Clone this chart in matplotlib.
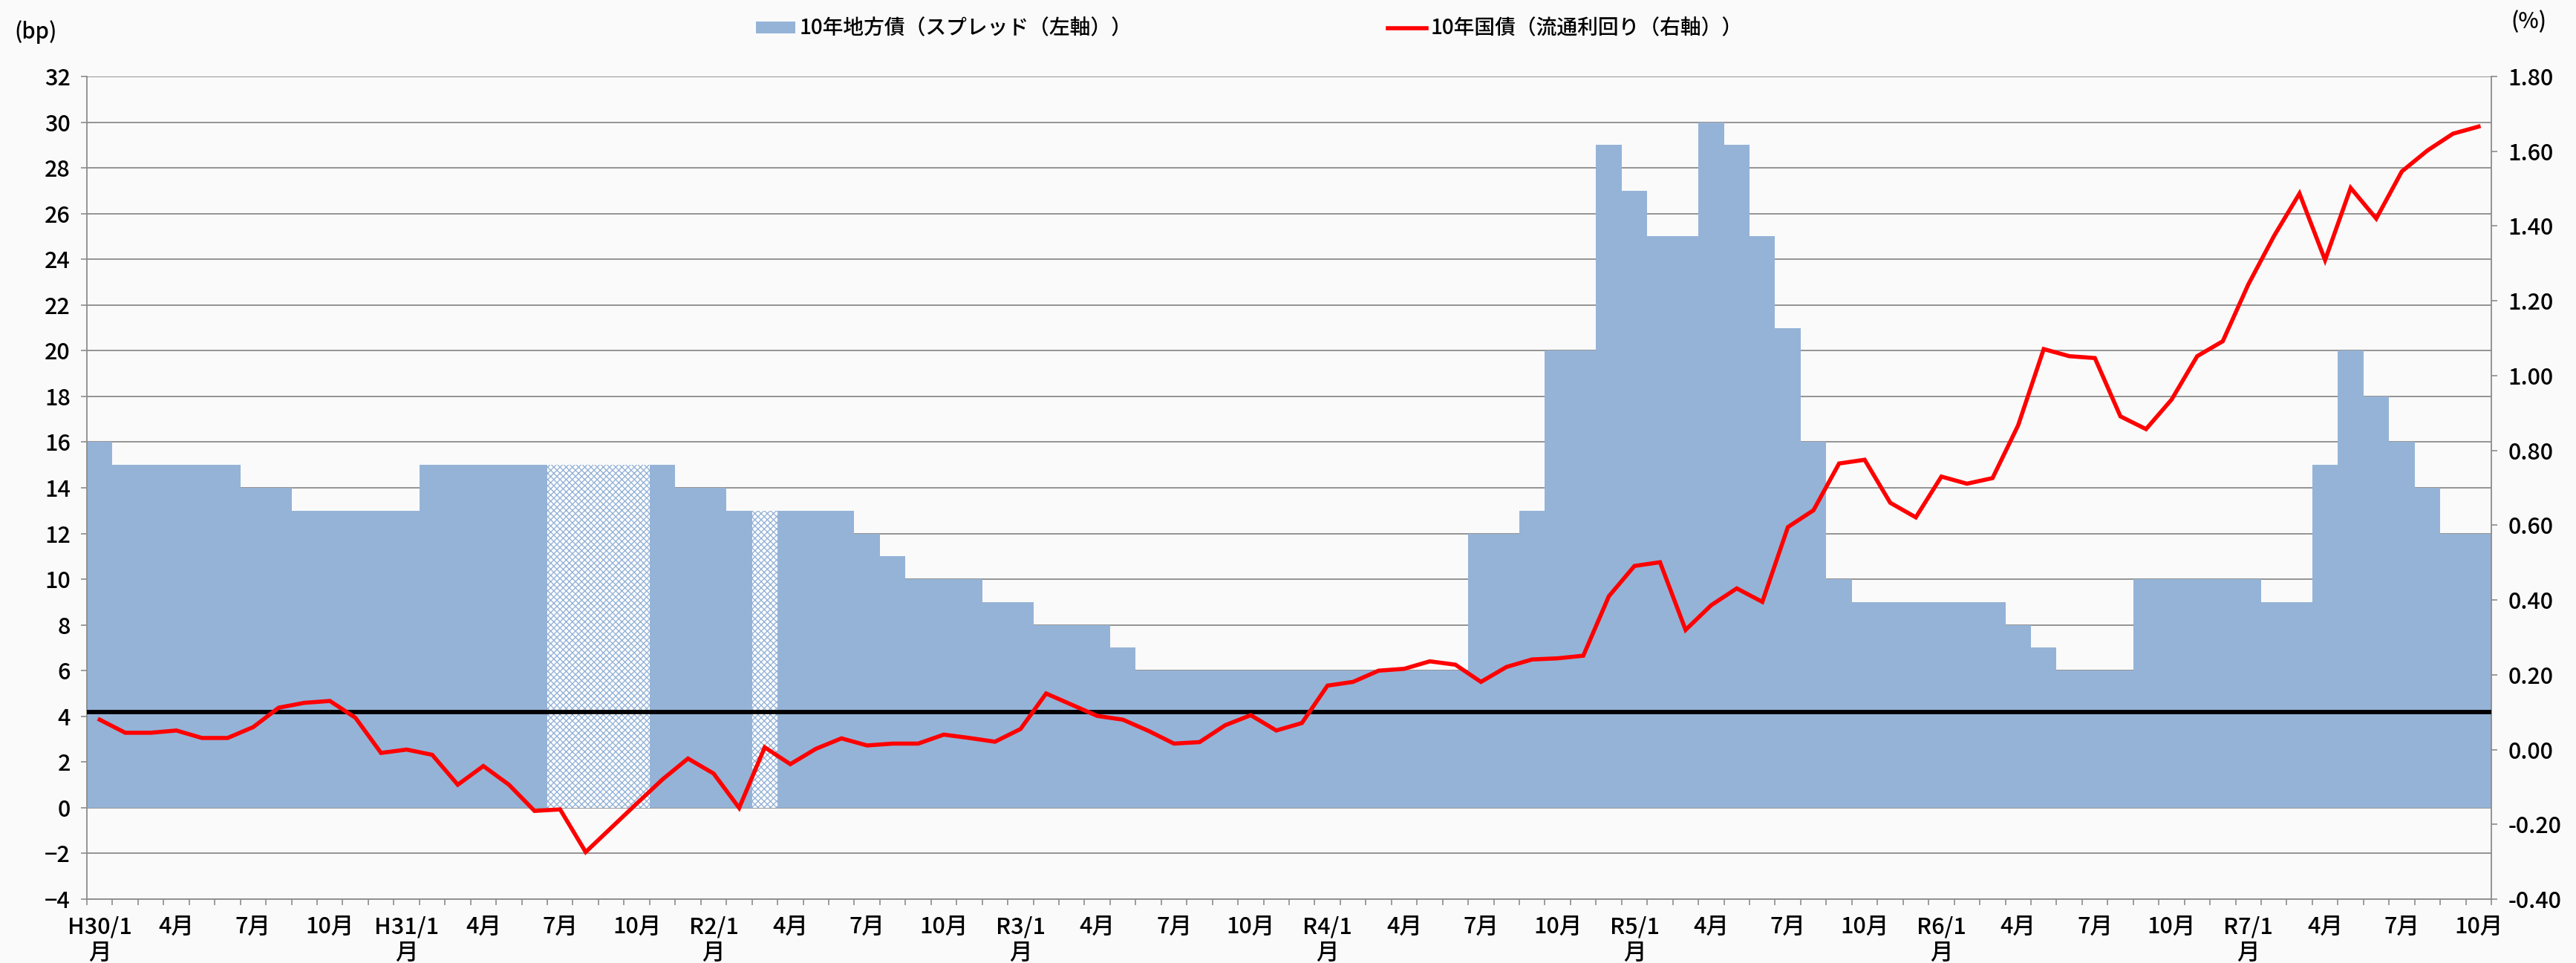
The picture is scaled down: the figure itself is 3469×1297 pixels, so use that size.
import numpy as np
import pandas as pd
import matplotlib
matplotlib.use('Agg')
import matplotlib.pyplot as plt
from matplotlib.patches import Patch
from matplotlib.lines import Line2D

plt.rcParams['font.family'] = ['Noto Sans CJK JP', 'DejaVu Sans']
plt.rcParams['font.weight'] = 'medium'
plt.rcParams['hatch.linewidth'] = 1.0

# monthly, H30/1 (2018-01) .. R7/10 (2025-10)
months = pd.date_range('2018-01-01', periods=94, freq='MS')

# 10-year local government bond spread (bp, left axis)
spread = [16, 15, 15, 15, 15, 15, 14, 14, 13, 13, 13, 13,
          13, 15, 15, 15, 15, 15, 15, 15, 15, 15, 15, 14,
          14, 13, 13, 13, 13, 13, 12, 11, 10, 10, 10, 9,
          9, 8, 8, 8, 7, 6, 6, 6, 6, 6, 6, 6,
          6, 6, 6, 6, 6, 6, 12, 12, 13, 20, 20, 29,
          27, 25, 25, 30, 29, 25, 21, 16, 10, 9, 9, 9,
          9, 9, 9, 8, 7, 6, 6, 6, 10, 10, 10, 10,
          10, 9, 9, 15, 20, 18, 16, 14, 12, 12]
# months drawn with the dotted pattern
hatched = [18, 19, 20, 21, 26]

# 10-year JGB yield (%, right axis)
jgb = [0.080, 0.045, 0.045, 0.051, 0.031, 0.031, 0.060, 0.112, 0.125, 0.130, 0.085, -0.009,
       0.000, -0.014, -0.094, -0.044, -0.094, -0.164, -0.160, -0.274, -0.209, -0.144, -0.080, -0.024,
       -0.064, -0.156, 0.006, -0.039, 0.002, 0.030, 0.011, 0.016, 0.016, 0.040, 0.031, 0.021,
       0.055, 0.150, 0.120, 0.090, 0.080, 0.050, 0.016, 0.020, 0.065, 0.092, 0.051, 0.071,
       0.171, 0.181, 0.211, 0.216, 0.236, 0.227, 0.181, 0.221, 0.241, 0.244, 0.251, 0.410,
       0.491, 0.501, 0.320, 0.386, 0.431, 0.395, 0.595, 0.640, 0.765, 0.775, 0.660, 0.621,
       0.730, 0.711, 0.726, 0.867, 1.071, 1.052, 1.047, 0.891, 0.857, 0.936, 1.052, 1.092,
       1.244, 1.373, 1.487, 1.309, 1.502, 1.420, 1.546, 1.602, 1.647, 1.666]

ref_level = 0.10  # black reference line (right axis)

tick_labels = ['H30/1\n月', '4月', '7月', '10月', 'H31/1\n月', '4月', '7月', '10月',
               'R2/1\n月', '4月', '7月', '10月', 'R3/1\n月', '4月', '7月', '10月',
               'R4/1\n月', '4月', '7月', '10月', 'R5/1\n月', '4月', '7月', '10月',
               'R6/1\n月', '4月', '7月', '10月', 'R7/1\n月', '4月', '7月', '10月']

label_spread = '10年地方債（スプレッド（左軸））'
label_jgb = '10年国債（流通利回り（右軸））'

bar_color = '#95b3d7'
grid_color = '#8c8c8c'
bg = '#fafafa'

fig = plt.figure(figsize=(34.69, 12.97), dpi=100, facecolor=bg)
ax = fig.add_axes([117 / 3469, 1 - 1211 / 1297, (3355 - 117) / 3469, (1211 - 103) / 1297])
ax.set_facecolor(bg)

x = np.arange(len(months))
spread = np.array(spread)
solid = np.array([i not in hatched for i in x])

ax.bar(x[solid], spread[solid], width=1.0, color=bar_color, linewidth=0, zorder=2)
ax.bar(x[~solid], spread[~solid], width=1.0, facecolor='white', edgecolor=bar_color,
       hatch='xxxx', linewidth=0, zorder=2)

ax.set_xlim(-0.5, len(months) - 0.5)
ax.set_ylim(-4, 32)
ax.set_yticks(np.arange(-4, 33, 2))
ax.set_axisbelow(True)
ax.yaxis.grid(True, color=grid_color, linewidth=1.3)

# month boundaries as ticks, labels at every 3rd month centre
ax.set_xticks(np.arange(-0.5, len(months), 1.0))
ax.set_xticklabels([])
ax.set_xticks(x[::3], minor=True)
ax.set_xticklabels(tick_labels, minor=True, fontsize=22, linespacing=1.15)
ax.tick_params(axis='x', which='major', length=6, width=1.2, color=grid_color, direction='out')
ax.tick_params(axis='x', which='minor', length=0, pad=16)
ax.tick_params(axis='y', length=6, width=1.2, color=grid_color, labelsize=22, pad=10)

for s in ['top', 'right']:
    ax.spines[s].set_visible(False)
for s in ['left', 'bottom']:
    ax.spines[s].set_color(grid_color)
    ax.spines[s].set_linewidth(1.3)

ax2 = ax.twinx()
ax2.set_ylim(-0.4, 1.8)
ax2.set_yticks(np.round(np.arange(-0.4, 1.81, 0.2), 2))
ax2.set_yticklabels(['%.2f' % v for v in np.arange(-0.4, 1.81, 0.2)])
ax2.tick_params(axis='y', length=6, width=1.2, color=grid_color, labelsize=22, pad=10)
for s in ['top', 'left', 'bottom']:
    ax2.spines[s].set_visible(False)
ax2.spines['right'].set_color(grid_color)
ax2.spines['right'].set_linewidth(1.3)

ax2.axhline(ref_level, color='black', linewidth=4.2, zorder=3)
ax2.plot(x, jgb, color='#ff0000', linewidth=4.0, zorder=4, solid_joinstyle='miter')

fig.text(19 / 3469, 1 - 43 / 1297, '(bp)', fontsize=21, va='center', ha='left')
fig.text(3381 / 3469, 1 - 30 / 1297, '(%)', fontsize=21, va='center', ha='left')

handles = [Patch(facecolor=bar_color, edgecolor='none'),
           Line2D([0], [0], color='#ff0000', linewidth=4.0)]
fig.legend(handles, [label_spread, label_jgb], loc='center left',
           bbox_to_anchor=(993 / 3469, 1 - 38 / 1297), ncol=2, frameon=False,
           fontsize=20, handlelength=1.9, handleheight=0.5, handletextpad=0.2,
           columnspacing=12.4)

fig.savefig('out.png', dpi=100, facecolor=bg)
